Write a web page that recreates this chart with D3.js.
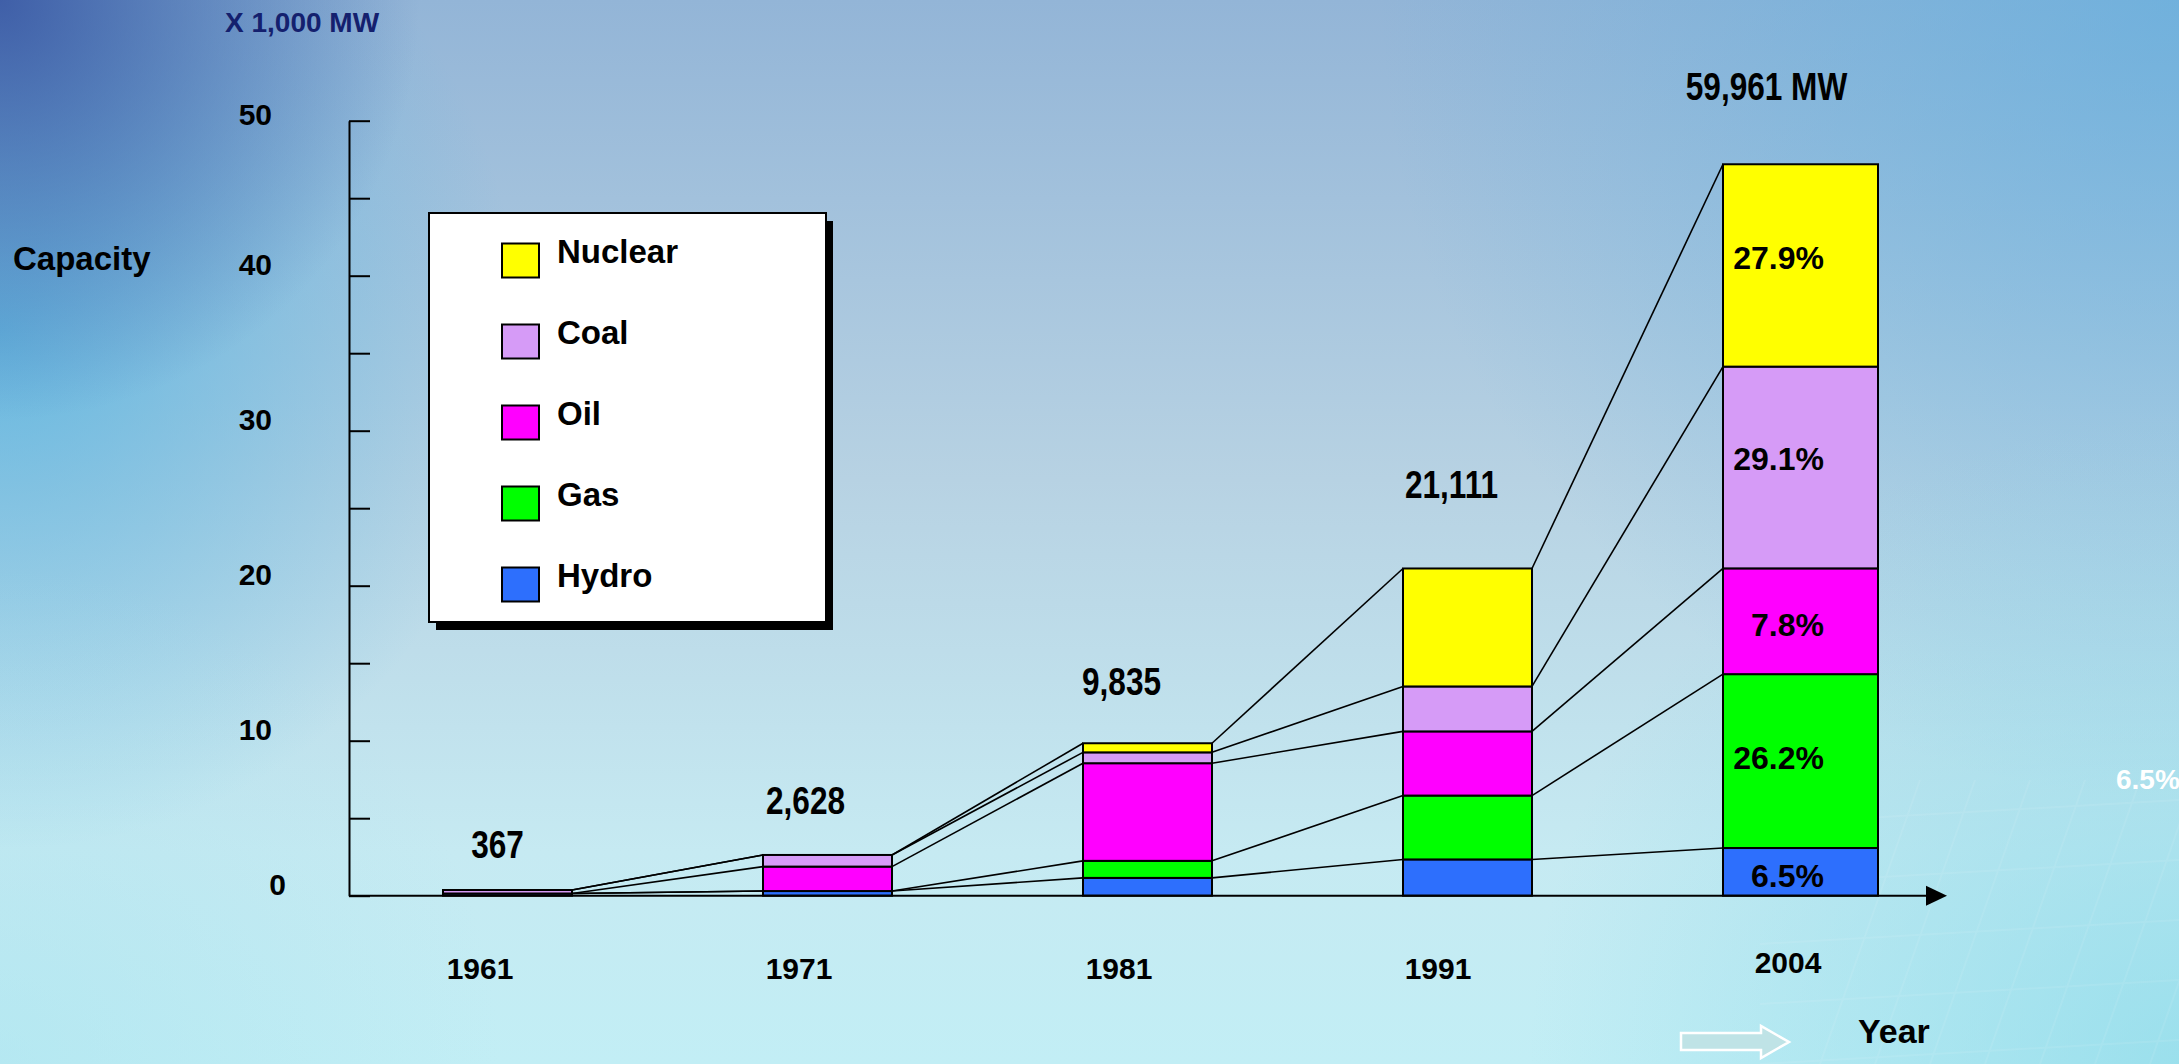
<!DOCTYPE html>
<html>
<head>
<meta charset="utf-8">
<script src="https://cdn.jsdelivr.net/npm/d3@7"></script>
<style>
  html, body { margin: 0; padding: 0; overflow: hidden; background: #b9d3e3; }
  svg { display: block; }
  text { font-family: "Liberation Sans", Arial, sans-serif; font-weight: bold; }
</style>
</head>
<body>
<svg id="chart" width="2179" height="1064"></svg>
<script>
// ---- data: installed generating capacity (MW) by source ----
const years = ["1961", "1971", "1981", "1991", "2004"];
const hydro   = [143,  300, 1148, 2340,  3909];
const gas     = [0,      0, 1100, 4120, 14253];
const oil     = [0,   1578, 6300, 4140,  8671];
const coal    = [224,  750,  700, 2900, 16539];
const nuclear = [0,      0,  587, 7611, 16589];
const totalLabels = ["367", "2,628", "9,835", "21,111", "59,961 MW"];
const shares2004 = ["6.5%", "26.2%", "7.8%", "29.1%", "27.9%"];   // hydro .. nuclear
const seriesKeys = ["Hydro", "Gas", "Oil", "Coal", "Nuclear"];
const yTickLabels = [0, 10, 20, 30, 40, 50];                      // x 1,000 MW

// ---- styles / layout ----
const colors = { Hydro: "#2d6ffd", Gas: "#00ff00", Oil: "#ff00ff", Coal: "#d69bf7", Nuclear: "#ffff00" };
const W = 2179, H = 1064;
const axisX = 349, baseY = 895.7, topY = 120.7;
const barWidth = 129, lastBarWidth = 155;
const squeeze2004 = 0.787;            // the 2004 column is drawn on a compressed scale
const totalLift = [32, 41, 48, 70, 64];
const totalDx = [-10, -22, -26, -16, -34];
const yearDx = [37, 36, 36, 35, 65];
const yearY = [979, 979, 979, 979, 973];
const shareDy = [3.7, -3.4, 3.7, -8.7, -7];

const svg = d3.select("#chart");
const defs = svg.append("defs");

// ---- background ----
const base = defs.append("linearGradient").attr("id", "bgBase")
  .attr("x1", 0).attr("y1", 0).attr("x2", 0).attr("y2", 1);
base.append("stop").attr("offset", 0).attr("stop-color", "#93b5d7");
base.append("stop").attr("offset", 0.45).attr("stop-color", "#b7d2e3");
base.append("stop").attr("offset", 0.8).attr("stop-color", "#c6eaf2");
base.append("stop").attr("offset", 1).attr("stop-color", "#c2eef5");

function radial(id, cx, cy, r, color, op) {
  const g = defs.append("radialGradient").attr("id", id)
    .attr("gradientUnits", "userSpaceOnUse")
    .attr("cx", cx).attr("cy", cy).attr("r", r);
  g.append("stop").attr("offset", 0).attr("stop-color", color).attr("stop-opacity", op);
  g.append("stop").attr("offset", 1).attr("stop-color", color).attr("stop-opacity", 0);
}
radial("gTL", 0, 0, 420, "#34509f", 0.85);
radial("gL", 0, 330, 520, "#4fb2e0", 0.75);
radial("gTR", 2179, 0, 800, "#5aaee0", 0.6);
radial("gBR", 2179, 1064, 650, "#86d8e8", 0.65);
radial("gBL", 0, 1064, 500, "#a8e2ee", 0.5);

svg.append("rect").attr("width", W).attr("height", H).attr("fill", "url(#bgBase)");
["gL", "gTL", "gTR", "gBR", "gBL"].forEach(id =>
  svg.append("rect").attr("width", W).attr("height", H).attr("fill", `url(#${id})`));

// faint panel pattern in the lower right corner
const panel = svg.append("g").attr("opacity", 0.08).attr("stroke", "#ffffff").attr("stroke-width", 2);
d3.range(0, 8).forEach(i => {
  panel.append("line").attr("x1", 1820 + i * 55).attr("y1", 1064).attr("x2", 1920 + i * 55).attr("y2", 780);
});
d3.range(0, 5).forEach(i => {
  panel.append("line").attr("x1", 1760).attr("y1", 1064 - i * 60).attr("x2", 2179).attr("y2", 1040 - i * 60);
});

// ---- scales ----
const x = d3.scalePoint().domain(years).range([443, 1723]);
const y = d3.scaleLinear().domain([0, 50000]).range([baseY, topY]);
const y2004 = y.copy().domain([0, 50000 / squeeze2004]);
const colScale = i => (i === years.length - 1 ? y2004 : y);
const colWidth = i => (i === years.length - 1 ? lastBarWidth : barWidth);

const table = years.map((yr, i) => ({
  year: yr, Hydro: hydro[i], Gas: gas[i], Oil: oil[i], Coal: coal[i], Nuclear: nuclear[i]
}));
const stacked = d3.stack().keys(seriesKeys)(table);

// ---- y axis ----
const yAxis = d3.axisRight(y)
  .tickValues(d3.range(0, 50001, 5000))
  .tickSize(21).tickSizeOuter(0).tickFormat("");
const ya = svg.append("g").attr("transform", `translate(${axisX},0)`).call(yAxis);
ya.selectAll("path, line").attr("stroke", "#000").attr("stroke-width", 2);

svg.append("g").selectAll("text").data(yTickLabels).join("text")
  .attr("x", d => (d === 0 ? 286 : 272))
  .attr("y", d => y(d * 1000) + (d === 50 ? 4 : -1))
  .attr("text-anchor", "end")
  .attr("font-size", 30)
  .text(d => d);

// ---- connector lines between neighbouring columns ----
const links = svg.append("g").attr("stroke", "#000").attr("stroke-width", 1.6);
for (let i = 0; i < years.length - 1; i++) {
  stacked.forEach(s => {
    links.append("line")
      .attr("x1", x(years[i]) + colWidth(i)).attr("y1", colScale(i)(s[i][1]))
      .attr("x2", x(years[i + 1])).attr("y2", colScale(i + 1)(s[i + 1][1]));
  });
}

// ---- stacked bars ----
const bars = svg.append("g");
stacked.forEach(s => {
  bars.append("g").selectAll("rect")
    .data(s.map((d, i) => ({ d, i })).filter(o => o.d[1] > o.d[0]))
    .join("rect")
    .attr("x", o => x(years[o.i]))
    .attr("width", o => colWidth(o.i))
    .attr("y", o => colScale(o.i)(o.d[1]))
    .attr("height", o => colScale(o.i)(o.d[0]) - colScale(o.i)(o.d[1]))
    .attr("fill", colors[s.key])
    .attr("stroke", "#000")
    .attr("stroke-width", 2);
});

// ---- x axis with arrow ----
svg.append("line").attr("x1", axisX).attr("y1", baseY).attr("x2", 1930).attr("y2", baseY)
  .attr("stroke", "#000").attr("stroke-width", 2);
svg.append("path").attr("d", `M1926,${baseY - 10} L1947,${baseY} L1926,${baseY + 10} Z`).attr("fill", "#000");

// ---- share labels in the 2004 column ----
const last = years.length - 1;
svg.append("g").selectAll("text").data(stacked).join("text")
  .attr("x", x(years[last]) + 101)
  .attr("y", (s, k) => (y2004(s[last][0]) + y2004(s[last][1])) / 2 + 11 + shareDy[k])
  .attr("text-anchor", "end")
  .attr("font-size", 32)
  .text((s, k) => shares2004[k]);

// ---- column totals (narrow bold) ----
const totals = table.map(r => seriesKeys.reduce((a, k) => a + r[k], 0));
svg.append("g").selectAll("text").data(totals).join("text")
  .attr("transform", (t, i) =>
    `translate(${x(years[i]) + colWidth(i) / 2 + totalDx[i]},${colScale(i)(t) - totalLift[i]}) scale(0.81,1)`)
  .attr("text-anchor", "middle")
  .attr("font-size", 39)
  .text((t, i) => totalLabels[i]);

// ---- year labels ----
svg.append("g").selectAll("text").data(years).join("text")
  .attr("x", (yr, i) => x(yr) + yearDx[i])
  .attr("y", (yr, i) => yearY[i])
  .attr("text-anchor", "middle")
  .attr("font-size", 30)
  .text(d => d);

// ---- axis titles ----
svg.append("text").attr("x", 225).attr("y", 32).attr("font-size", 28).attr("fill", "#14206e").text("X 1,000 MW");
svg.append("text").attr("x", 13).attr("y", 270).attr("font-size", 33).text("Capacity");
svg.append("text").attr("x", 1858).attr("y", 1043).attr("font-size", 34).text("Year");

// outlined arrow next to the Year title
svg.append("path")
  .attr("d", "M1681,1033 L1761,1033 L1761,1026 L1789,1042 L1761,1058 L1761,1050 L1681,1050 Z")
  .attr("fill", "#bfe3e6").attr("stroke", "#ffffff").attr("stroke-width", 2.5);

// white share figure at the right edge
svg.append("text").attr("x", 2116).attr("y", 789).attr("font-size", 28).attr("fill", "#ffffff").text("6.5%");

// ---- legend ----
const lg = svg.append("g");
lg.append("rect").attr("x", 436).attr("y", 221).attr("width", 397).attr("height", 409).attr("fill", "#000");
lg.append("rect").attr("x", 429).attr("y", 213).attr("width", 397).attr("height", 409)
  .attr("fill", "#ffffff").attr("stroke", "#000").attr("stroke-width", 2);
const legendOrder = seriesKeys.slice().reverse();
const li = lg.selectAll("g.item").data(legendOrder).join("g").attr("class", "item")
  .attr("transform", (k, i) => `translate(502,${243.5 + i * 81})`);
li.append("rect").attr("width", 37).attr("height", 34)
  .attr("fill", k => colors[k]).attr("stroke", "#000").attr("stroke-width", 2);
li.append("text").attr("x", 55).attr("y", 19.5).attr("font-size", 33).text(k => k);
</script>
</body>
</html>
